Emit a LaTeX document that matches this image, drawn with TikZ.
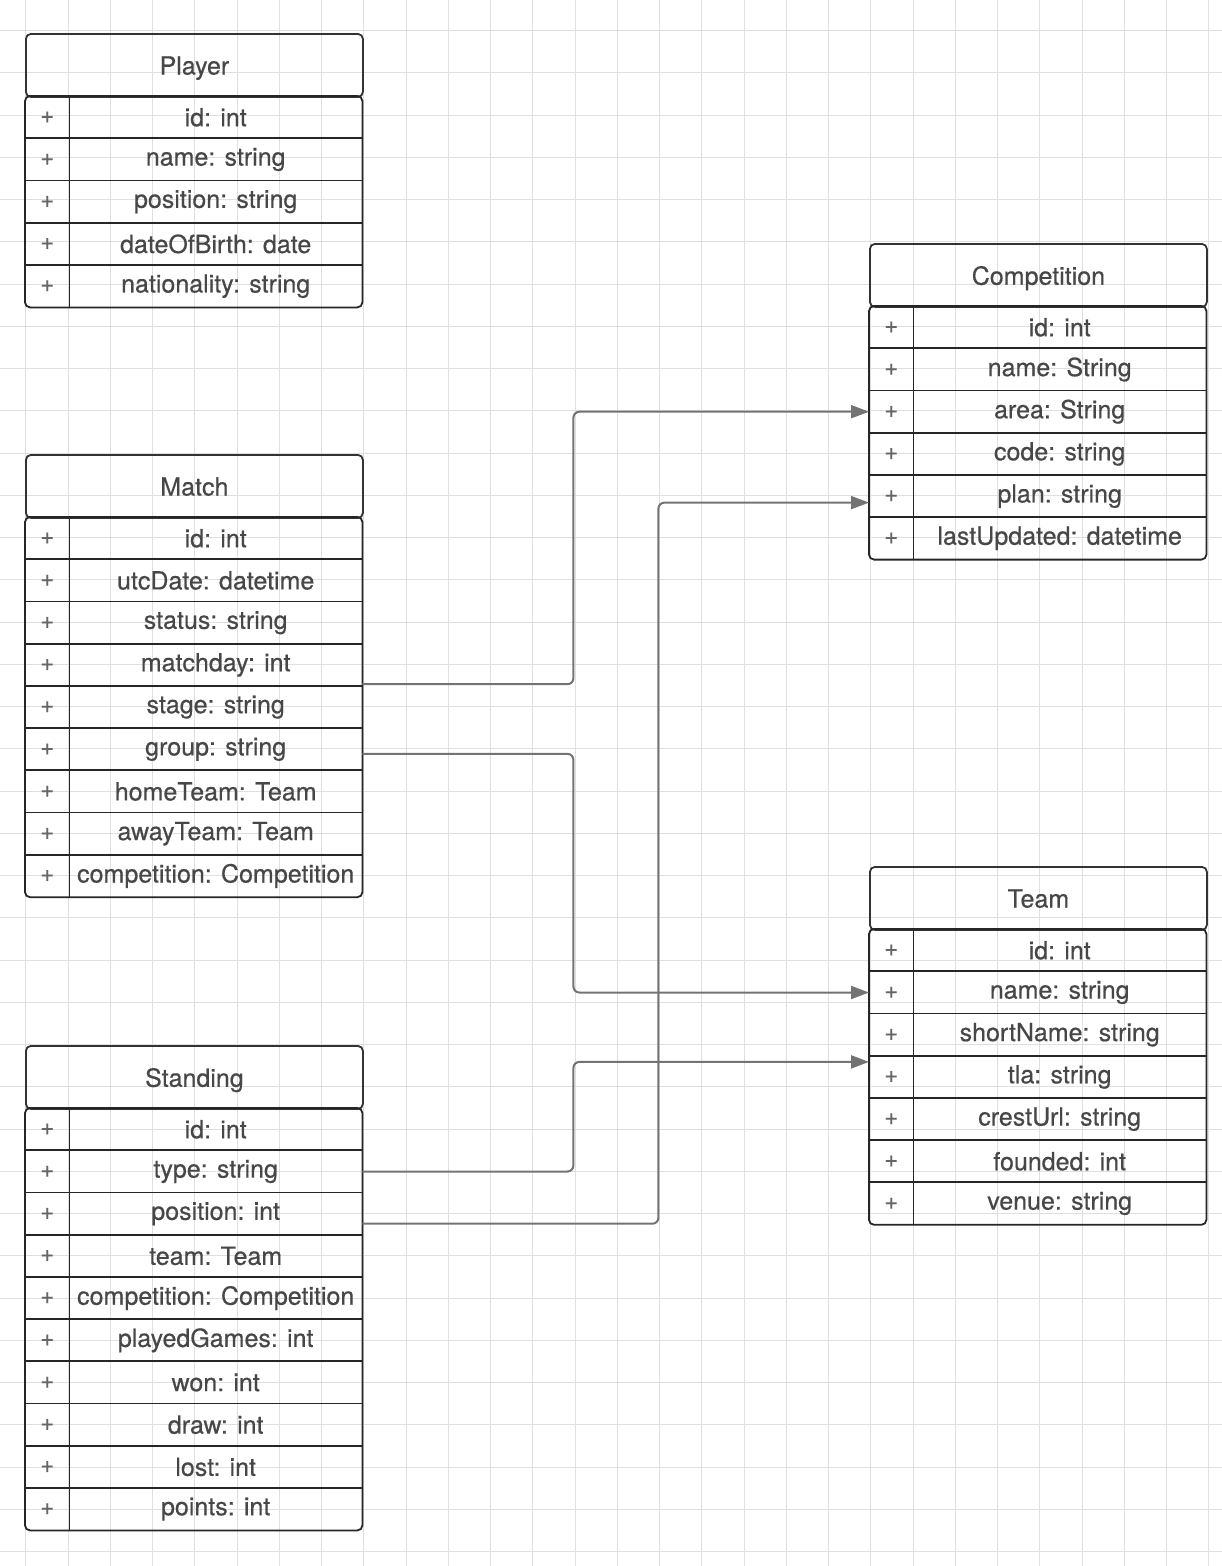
\documentclass[tikz,border=0pt]{standalone}
\usepackage{fontspec}
\newfontfamily\diagfont[UprightFeatures={FakeBold=0.5}]{TeX Gyre Heros}
\usetikzlibrary{arrows.meta}

\begin{document}
\begin{tikzpicture}[
		x=1pt, y=-1pt,
		gridline/.style={gray!25, line width=1pt},
		head/.style={draw=black!80, line width=1.8pt, rounded corners=5pt, minimum width=337pt, minimum height=63pt, inner sep=0pt, text depth=0pt, text=black!72, font=\diagfont\fontsize{25}{29}\selectfont},
		plus/.style={minimum width=44pt, minimum height=42.2pt, inner sep=0pt, text=black!60, font=\diagfont\fontsize{24}{28}\selectfont},
		attr/.style={minimum width=293pt, minimum height=42.2pt, inner sep=0pt, text=black!72, font=\diagfont\fontsize{25}{29}\selectfont},
		box/.style={draw=black!85, line width=1.8pt},
		link/.style={draw=black!55, line width=2pt, rounded corners=6pt, -{Triangle[length=18pt, width=13pt]}}
	]

		\useasboundingbox (0,0) rectangle (1222,1566);

		% Background grid
		\foreach \k in {-1,...,27} \draw[gridline] (68+42.25*\k,0) -- (68+42.25*\k,1566);
		\foreach \k in {0,...,36} \draw[gridline] (0,30.5+42.25*\k) -- (1222,30.5+42.25*\k);

		% Player
		\node[head, anchor=north west] (player) at (25,33) {Player};
		\foreach \t [count=\i] in {id: int, name: string, position: string, dateOfBirth: date, nationality: string}{
			\node[plus, anchor=north west] (player-p\i) at (25,96+42.2*\i-42.2) {+};
			\node[attr, anchor=north west] (player-\i) at (69,96+42.2*\i-42.2) {\t};
		}
		\draw[box, rounded corners=5pt] (player-p1.north west) rectangle (player-5.south east);
		\draw[box] (player-p1.north east) -- (player-p5.south east);
		\foreach \i in {2,...,5} \draw[box] (player-p\i.north west) -- (player-\i.north east);

		% Match
		\node[head, anchor=north west] (match) at (25,454) {Match};
		\foreach \t [count=\i] in {id: int, utcDate: datetime, status: string, matchday: int, stage: string, group: string, homeTeam: Team, awayTeam: Team, competition: Competition}{
			\node[plus, anchor=north west] (match-p\i) at (25,517+42.2*\i-42.2) {+};
			\node[attr, anchor=north west] (match-\i) at (69,517+42.2*\i-42.2) {\t};
		}
		\draw[box, rounded corners=5pt] (match-p1.north west) rectangle (match-9.south east);
		\draw[box] (match-p1.north east) -- (match-p9.south east);
		\foreach \i in {2,...,9} \draw[box] (match-p\i.north west) -- (match-\i.north east);

		% Standing
		\node[head, anchor=north west] (stand) at (25,1045) {Standing};
		\foreach \t [count=\i] in {id: int, type: string, position: int, team: Team, competition: Competition, playedGames: int, won: int, draw: int, lost: int, points: int}{
			\node[plus, anchor=north west] (stand-p\i) at (25,1108+42.2*\i-42.2) {+};
			\node[attr, anchor=north west] (stand-\i) at (69,1108+42.2*\i-42.2) {\t};
		}
		\draw[box, rounded corners=5pt] (stand-p1.north west) rectangle (stand-10.south east);
		\draw[box] (stand-p1.north east) -- (stand-p10.south east);
		\foreach \i in {2,...,10} \draw[box] (stand-p\i.north west) -- (stand-\i.north east);

		% Competition
		\node[head, anchor=north west] (comp) at (869,243) {Competition};
		\foreach \t [count=\i] in {id: int, name: String, area: String, code: string, plan: string, lastUpdated: datetime}{
			\node[plus, anchor=north west] (comp-p\i) at (869,306+42.2*\i-42.2) {+};
			\node[attr, anchor=north west] (comp-\i) at (913,306+42.2*\i-42.2) {\t};
		}
		\draw[box, rounded corners=5pt] (comp-p1.north west) rectangle (comp-6.south east);
		\draw[box] (comp-p1.north east) -- (comp-p6.south east);
		\foreach \i in {2,...,6} \draw[box] (comp-p\i.north west) -- (comp-\i.north east);

		% Team
		\node[head, anchor=north west] (team) at (869,866) {Team};
		\foreach \t [count=\i] in {id: int, name: string, shortName: string, tla: string, crestUrl: string, founded: int, venue: string}{
			\node[plus, anchor=north west] (team-p\i) at (869,929+42.2*\i-42.2) {+};
			\node[attr, anchor=north west] (team-\i) at (913,929+42.2*\i-42.2) {\t};
		}
		\draw[box, rounded corners=5pt] (team-p1.north west) rectangle (team-7.south east);
		\draw[box] (team-p1.north east) -- (team-p7.south east);
		\foreach \i in {2,...,7} \draw[box] (team-p\i.north west) -- (team-\i.north east);

		% Links
		\draw[link] ([yshift=2pt]match-4.south east) -- ++(211,0) |- (comp-p3.west);
		\draw[link] ([yshift=-4.5pt]match-6.east) -- ++(211,0) |- (team-p2.west);
		\draw[link] (stand-2.east) -- ++(211,0) |- ([yshift=15pt]team-p4.west);
		\draw[link] ([yshift=-10pt]stand-3.east) -- ++(296,0) |- ([yshift=-6.5pt]comp-p5.west);
	\end{tikzpicture}
\end{document}
